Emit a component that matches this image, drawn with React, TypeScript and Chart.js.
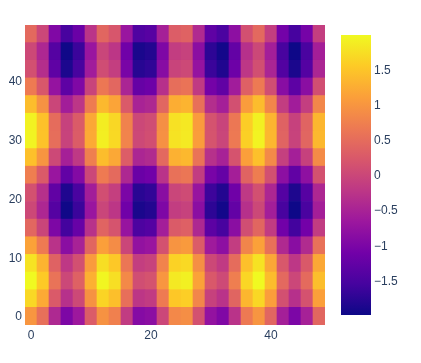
import React, { useEffect, useRef } from "react";
import { Chart, registerables } from "chart.js";

Chart.register(...registerables);

const xValues = [0, 2, 4, 6, 8, 10, 12, 14, 16, 18, 20, 22, 24, 26, 28, 30, 32, 34, 36, 38, 40, 42, 44, 46, 48];
const yValues = [0, 3, 6, 9, 12, 15, 18, 21, 24, 27, 30, 33, 36, 39, 42, 45, 48];

const rowY0 = [1.0, 0.54, -0.42, -0.99, -0.65, 0.28, 0.96, 0.75, -0.15, -0.91, -0.84, 0.0, 0.84, 0.91, 0.14, -0.76, -0.96, -0.28, 0.66, 0.99, 0.41, -0.55, -1.0, -0.53, 0.42];
const rowY3 = [1.68, 1.22, 0.26, -0.31, 0.03, 0.96, 1.64, 1.43, 0.53, -0.23, -0.16, 0.68, 1.52, 1.59, 0.82, -0.08, -0.28, 0.4, 1.34, 1.67, 1.09, 0.13, -0.32, 0.15, 1.1];
const rowY6 = [2.0, 1.54, 0.58, 0.01, 0.35, 1.28, 1.96, 1.75, 0.85, 0.09, 0.16, 1.0, 1.84, 1.91, 1.14, 0.24, 0.04, 0.72, 1.66, 1.99, 1.41, 0.45, 0.0, 0.47, 1.42];
const rowY9 = [1.78, 1.32, 0.36, -0.21, 0.13, 1.06, 1.74, 1.53, 0.63, -0.13, -0.06, 0.78, 1.62, 1.69, 0.92, 0.02, -0.18, 0.5, 1.44, 1.77, 1.19, 0.23, -0.22, 0.25, 1.2];
const rowY12 = [1.14, 0.68, -0.28, -0.85, -0.51, 0.42, 1.1, 0.89, -0.01, -0.77, -0.7, 0.14, 0.98, 1.05, 0.28, -0.62, -0.82, -0.14, 0.8, 1.13, 0.55, -0.41, -0.86, -0.39, 0.56];
const rowY15 = [0.43, -0.03, -0.99, -1.56, -1.22, -0.29, 0.39, 0.18, -0.72, -1.48, -1.41, -0.57, 0.27, 0.34, -0.43, -1.33, -1.53, -0.85, 0.09, 0.42, -0.16, -1.12, -1.57, -1.1, -0.15];
const rowY18 = [0.02, -0.44, -1.4, -1.97, -1.63, -0.7, -0.02, -0.23, -1.13, -1.89, -1.82, -0.98, -0.14, -0.07, -0.84, -1.74, -1.94, -1.26, -0.32, 0.01, -0.57, -1.53, -1.98, -1.51, -0.56];
const rowY21 = [0.14, -0.32, -1.28, -1.85, -1.51, -0.58, 0.1, -0.11, -1.01, -1.77, -1.7, -0.86, -0.02, 0.05, -0.72, -1.62, -1.82, -1.14, -0.2, 0.13, -0.45, -1.41, -1.86, -1.39, -0.44];
const rowY24 = [0.72, 0.26, -0.7, -1.27, -0.93, 0.0, 0.68, 0.47, -0.43, -1.19, -1.12, -0.28, 0.56, 0.63, -0.14, -1.04, -1.24, -0.56, 0.38, 0.71, 0.13, -0.83, -1.28, -0.81, 0.14];
const rowY27 = [1.45, 0.99, 0.03, -0.54, -0.2, 0.73, 1.41, 1.2, 0.3, -0.46, -0.39, 0.45, 1.29, 1.36, 0.59, -0.31, -0.51, 0.17, 1.11, 1.44, 0.86, -0.1, -0.55, -0.08, 0.87];
const rowY30 = [1.94, 1.48, 0.52, -0.05, 0.29, 1.22, 1.9, 1.69, 0.79, 0.03, 0.1, 0.94, 1.78, 1.85, 1.08, 0.18, -0.02, 0.66, 1.6, 1.93, 1.35, 0.39, -0.06, 0.41, 1.36];
const rowY33 = [1.92, 1.46, 0.5, -0.07, 0.27, 1.2, 1.88, 1.67, 0.77, 0.01, 0.08, 0.92, 1.76, 1.83, 1.06, 0.16, -0.04, 0.64, 1.58, 1.91, 1.33, 0.37, -0.08, 0.39, 1.34];
const rowY36 = [1.41, 0.95, -0.01, -0.58, -0.24, 0.69, 1.37, 1.16, 0.26, -0.5, -0.43, 0.41, 1.25, 1.32, 0.55, -0.35, -0.55, 0.13, 1.07, 1.4, 0.82, -0.14, -0.59, -0.12, 0.83];
const rowY39 = [0.68, 0.22, -0.74, -1.31, -0.97, -0.04, 0.64, 0.43, -0.47, -1.23, -1.16, -0.32, 0.52, 0.59, -0.18, -1.08, -1.28, -0.6, 0.34, 0.67, 0.09, -0.87, -1.32, -0.85, 0.1];
const rowY42 = [0.12, -0.34, -1.3, -1.87, -1.53, -0.6, 0.08, -0.13, -1.03, -1.79, -1.72, -0.88, -0.04, 0.03, -0.74, -1.64, -1.84, -1.16, -0.22, 0.11, -0.47, -1.43, -1.88, -1.41, -0.46];
const rowY45 = [0.02, -0.44, -1.4, -1.97, -1.63, -0.7, -0.02, -0.23, -1.13, -1.89, -1.82, -0.98, -0.14, -0.07, -0.84, -1.74, -1.94, -1.26, -0.32, 0.01, -0.57, -1.53, -1.98, -1.51, -0.56];
const rowY48 = [0.46, 0.0, -0.96, -1.53, -1.19, -0.26, 0.42, 0.21, -0.69, -1.45, -1.38, -0.54, 0.3, 0.37, -0.4, -1.3, -1.5, -0.82, 0.12, 0.45, -0.13, -1.09, -1.54, -1.07, -0.12];

const zRows = [rowY0, rowY3, rowY6, rowY9, rowY12, rowY15, rowY18, rowY21, rowY24, rowY27, rowY30, rowY33, rowY36, rowY39, rowY42, rowY45, rowY48];

const xTickLabels = [0, 20, 40];
const yTickValues = [0, 10, 20, 30, 40];
const barTickValues = [-1.5, -1, -0.5, 0, 0.5, 1, 1.5];

const plasma = ["#0d0887", "#46039f", "#7201a8", "#9c179e", "#bd3786", "#d8576b", "#ed7953", "#fb9f3a", "#fdca26", "#f0f921"];
const zMin = -1.99;
const zMax = 1.99;
const cellHalfHeight = 1.5;
const fontFamily = '"Liberation Sans", Arial, sans-serif';
const textColor = "#2a3f5f";
const labelShiftY = 1;

function hexRgb(h: string) {
  return [parseInt(h.slice(1, 3), 16), parseInt(h.slice(3, 5), 16), parseInt(h.slice(5, 7), 16)];
}

function colorFor(z: number) {
  const t = Math.min(1, Math.max(0, (z - zMin) / (zMax - zMin))) * (plasma.length - 1);
  const i = Math.min(plasma.length - 2, Math.floor(t));
  const f = t - i;
  const a = hexRgb(plasma[i]);
  const b = hexRgb(plasma[i + 1]);
  return `rgb(${a.map((v, k) => Math.round(v + (b[k] - v) * f)).join(",")})`;
}

function formatBarTick(v: number) {
  return v < 0 ? "\u2212" + String(-v) : String(v);
}

// Plotly centres its tick labels a little lower than canvas "middle" does.
function shiftLabels(scale: any) {
  const original = Object.getPrototypeOf(scale).getLabelItems;
  scale.getLabelItems = function (area: any) {
    const cached = this._labelItems;
    const items = original.call(this, area);
    if (!cached) items.forEach((it: any) => { it.options.translation[1] += labelShiftY; });
    return items;
  };
}

export default function App() {
  const heatRef = useRef<HTMLCanvasElement>(null);
  const barRef = useRef<HTMLCanvasElement>(null);

  useEffect(() => {
    const font = { family: fontFamily, size: 12 };
    const heat = new Chart(heatRef.current!, {
      type: "bar",
      data: {
        labels: xValues.map(String),
        datasets: zRows.map((row, r) => ({
          data: row.map(() => [yValues[r] - cellHalfHeight, yValues[r] + cellHalfHeight]),
          backgroundColor: row.map(colorFor),
          borderWidth: 0,
          grouped: false,
          barPercentage: 1,
          categoryPercentage: 1,
        })),
      } as any,
      options: {
        animation: false,
        responsive: false,
        layout: { padding: { top: 25, right: 5, left: 0, bottom: 0 } },
        plugins: { legend: { display: false }, tooltip: { enabled: false } },
        scales: {
          x: {
            grid: { display: false, drawTicks: false },
            border: { display: false },
            afterFit: (s: any) => { s.height = 38; },
            ticks: {
              autoSkip: false,
              maxRotation: 0,
              padding: 3,
              color: textColor,
              font,
              callback(this: any, v: any) {
                const l = Number(this.getLabelForValue(v));
                return xTickLabels.includes(l) ? String(l) : "";
              },
            },
          },
          y: {
            min: yValues[0] - cellHalfHeight,
            max: yValues[yValues.length - 1] + cellHalfHeight,
            grid: { display: false, drawTicks: false },
            border: { display: false },
            afterFit: (s: any) => { s.width = 25; },
            afterBuildTicks: (s: any) => { s.ticks = yTickValues.map((value) => ({ value })); shiftLabels(s); },
            ticks: { padding: 3, color: textColor, font },
          },
        },
      } as any,
    });

    const bar = new Chart(barRef.current!, {
      type: "bar",
      data: {
        labels: ["z"],
        datasets: [{
          data: [[zMin, zMax]],
          borderWidth: 0,
          barPercentage: 1,
          categoryPercentage: 1,
          backgroundColor: (ctx: any) => {
            const area = ctx.chart.chartArea;
            if (!area) return plasma[0];
            const g = ctx.chart.ctx.createLinearGradient(0, area.bottom, 0, area.top);
            plasma.forEach((c, i) => g.addColorStop(i / (plasma.length - 1), c));
            return g;
          },
        }],
      } as any,
      options: {
        animation: false,
        responsive: false,
        layout: { padding: { top: 35, bottom: 48, left: 11, right: 0 } },
        plugins: { legend: { display: false }, tooltip: { enabled: false } },
        scales: {
          x: { display: false },
          y: {
            position: "right",
            min: zMin,
            max: zMax,
            grid: { display: false, drawTicks: false },
            border: { display: false },
            afterFit: (s: any) => { s.width = 50; },
            afterBuildTicks: (s: any) => { s.ticks = barTickValues.map((value) => ({ value })); shiftLabels(s); },
            ticks: { padding: 3, color: textColor, font, callback: (v: any) => formatBarTick(Number(v)) },
          },
        },
      } as any,
    });

    return () => {
      heat.destroy();
      bar.destroy();
    };
  }, []);

  return (
    <div style={{ position: "absolute", left: 0, top: 0, width: 421, height: 363, background: "#fff", overflow: "hidden" }}>
      <canvas ref={heatRef} width={330} height={363} style={{ position: "absolute", left: 0, top: 0 }} />
      <canvas ref={barRef} width={91} height={363} style={{ position: "absolute", left: 330, top: 0 }} />
    </div>
  );
}
